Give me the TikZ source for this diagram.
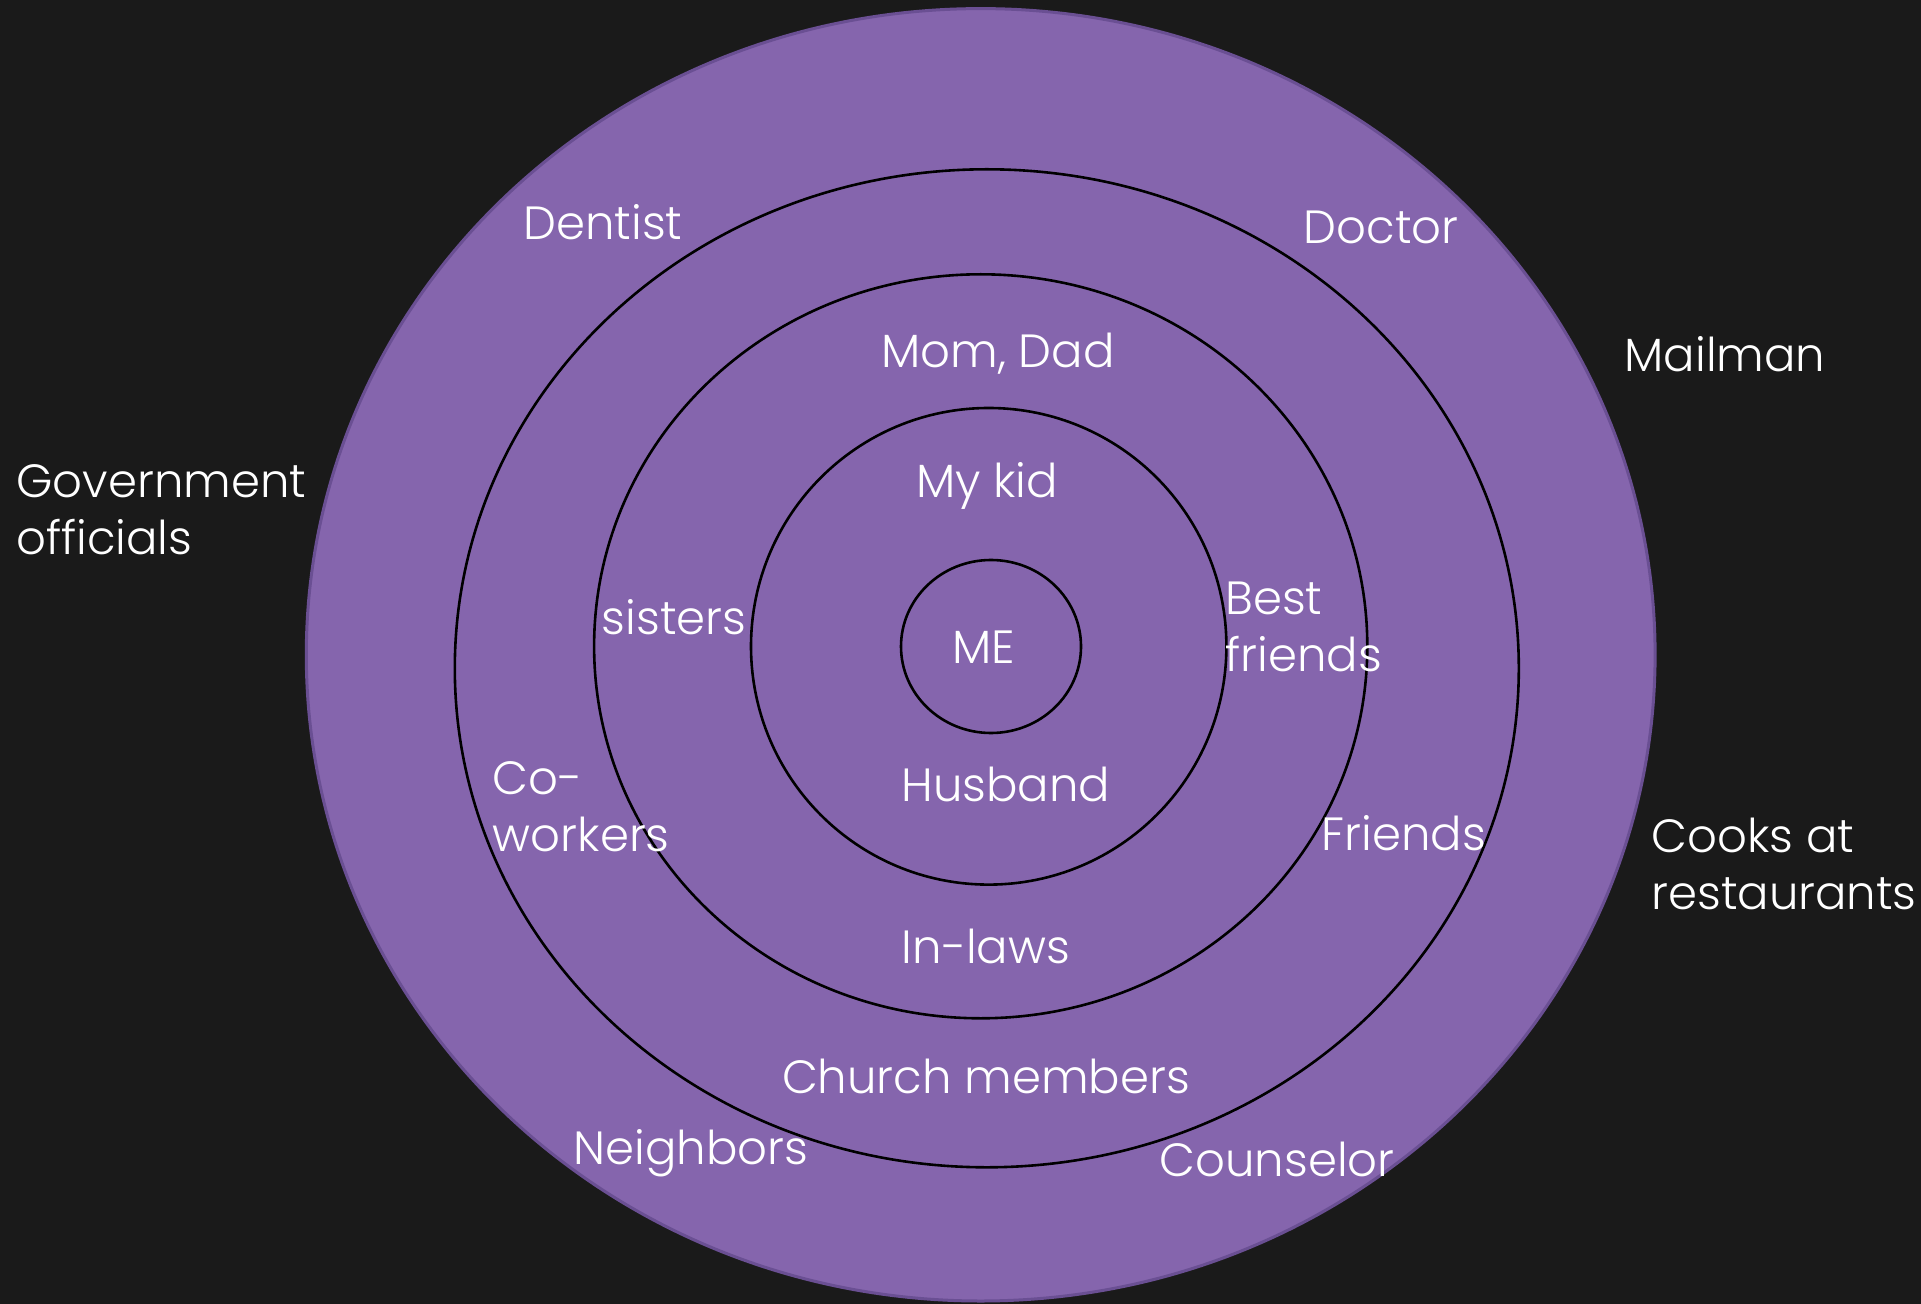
\documentclass[tikz,border=0pt]{standalone}
\usepackage{fontspec}
\setmainfont{Poppins}[UprightFont=* Light]
\usetikzlibrary{positioning}
\definecolor{bgdark}{HTML}{1A1A1A}
\definecolor{ringfill}{HTML}{8565AD}
\definecolor{ringedge}{HTML}{6A4F93}
\tikzset{
  lbl/.style={text=white, inner sep=0pt, font={\fontsize{23.3pt}{28.5pt}\selectfont}},
  lbl2/.style={lbl, align=left, anchor=west},
  ring/.style={draw=black, line width=1.3pt}}

\begin{document}
\begin{tikzpicture}[x=0.5pt,y=-0.5pt]
\fill[bgdark] (0,0) rectangle (1921,1304);
\useasboundingbox (0,0) rectangle (1921,1304);
% rings, outside in
\filldraw[fill=ringfill, draw=ringedge, line width=1.5pt] (980.7,654.8) ellipse [x radius=674.4, y radius=646.2];
\draw[ring] (986.8,668.3) ellipse [x radius=532, y radius=499];
\draw[ring] (980.7,646.3) ellipse [x radius=386.6, y radius=372];
\draw[ring] (988.7,646.3) ellipse [x radius=237.7, y radius=238.3];
\draw[ring] (991,646.5) ellipse [x radius=90, y radius=86.5];
% labels
\node[lbl] (me) at (984,647) {ME};
\node[lbl] (kid) at (987,486) {My kid};
\node[lbl] (husband) at (1006,784) {Husband};
\node[lbl] (momdad) at (998,354) {Mom, Dad};
\node[lbl] (sisters) at (674,617) {sisters};
\node[lbl2] (bestfr) at (1225,627) {Best\\friends};
\node[lbl] (inlaws) at (986,946) {In-laws};
\node[lbl] (friends) at (1404,833) {Friends};
\node[lbl2] (cowork) at (492.5,807) {Co-\\workers};
\node[lbl] (church) at (986,1076) {Church members};
\node[lbl] (dentist) at (603,222) {Dentist};
\node[lbl] (doctor) at (1381,227) {Doctor};
\node[lbl] (neighb) at (691,1153) {Neighbors};
\node[lbl] (counsel) at (1277,1159) {Counselor};
\node[lbl] (mailman) at (1725,354) {Mailman};
\node[lbl2] (govt) at (16,510) {Government\\officials};
\node[lbl2] (cooks) at (1651,864) {Cooks at\\restaurants};
\end{tikzpicture}
\end{document}
